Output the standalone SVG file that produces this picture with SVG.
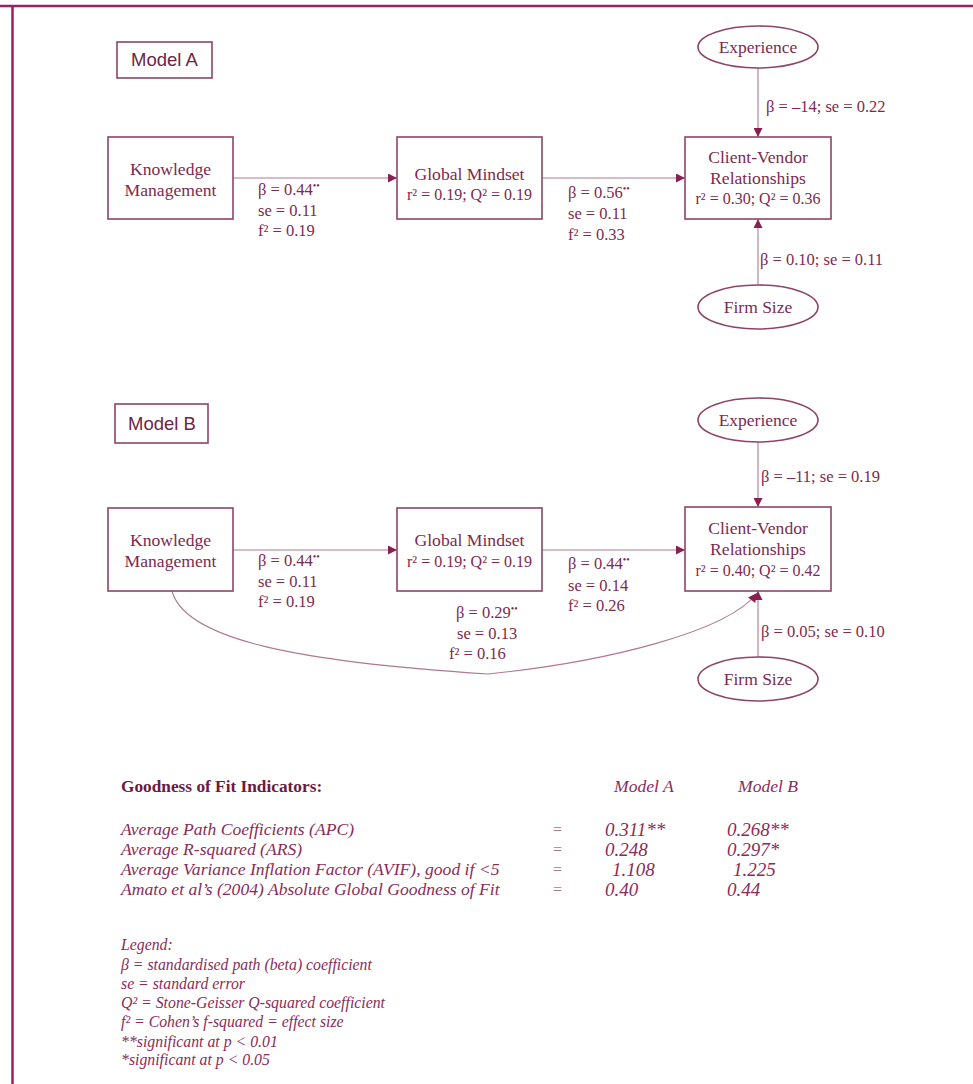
<svg xmlns="http://www.w3.org/2000/svg" width="973" height="1084" viewBox="0 0 973 1084">
<defs>
<marker id="ah" viewBox="0 0 10 10" refX="10" refY="5" markerWidth="11" markerHeight="9" markerUnits="userSpaceOnUse" orient="auto">
<path d="M0,0 L10,5 L0,10 z" fill="#8a1f52"/>
</marker>
<style>
.bx{fill:#fff;stroke:#8e4466;stroke-width:1.6}
.el{fill:#fff;stroke:#8e4466;stroke-width:1.6}
.ln{fill:none;stroke:#b07892;stroke-width:1.1}
.n{font-family:"Liberation Serif","Times New Roman",serif;font-size:17.6px;fill:#7d2a50;text-anchor:middle}
.ns{font-family:"Liberation Serif","Times New Roman",serif;font-size:16px;fill:#7d2a50;text-anchor:middle}
.ne{font-family:"Liberation Serif","Times New Roman",serif;font-size:17.5px;fill:#7d2a50;text-anchor:middle}
.lb{font-family:"Liberation Serif","Times New Roman",serif;font-size:16.5px;fill:#7d2a50}
.m{font-family:"Liberation Sans",Arial,sans-serif;font-size:18.5px;fill:#6e2446}
.sup{font-size:10px}
.h{font-family:"Liberation Serif","Times New Roman",serif;font-size:17.3px;font-weight:bold;fill:#6b1a40}
.it{font-family:"Liberation Serif","Times New Roman",serif;font-size:17.6px;font-style:italic;fill:#8a2c5a}
.v{font-family:"Liberation Serif","Times New Roman",serif;font-size:19px;font-style:italic;fill:#8a2c5a}
.eq{font-family:"Liberation Serif","Times New Roman",serif;font-size:16px;fill:#a8788f}
.lg{font-family:"Liberation Serif","Times New Roman",serif;font-size:15.8px;font-style:italic;fill:#8a2c5a}
</style>
</defs>
<rect x="0" y="0" width="973" height="1084" fill="#fff"/>
<g id="frame">
<line x1="0" y1="6" x2="973" y2="6" stroke="#9d1f63" stroke-width="2.5"/>
<line x1="12.5" y1="5" x2="12.5" y2="1084" stroke="#9d1f63" stroke-width="2.5"/>
</g>

<g id="connectors">
<line class="ln" x1="233" y1="178" x2="397" y2="178" marker-end="url(#ah)"/>
<line class="ln" x1="542" y1="178" x2="685" y2="178" marker-end="url(#ah)"/>
<line class="ln" x1="758" y1="68" x2="758" y2="137" marker-end="url(#ah)"/>
<line class="ln" x1="758" y1="285" x2="758" y2="219" marker-end="url(#ah)"/>
<line class="ln" x1="233" y1="550" x2="397" y2="550" marker-end="url(#ah)"/>
<line class="ln" x1="542" y1="550" x2="685" y2="550" marker-end="url(#ah)"/>
<line class="ln" x1="758" y1="442" x2="758" y2="507" marker-end="url(#ah)"/>
<line class="ln" x1="758" y1="657" x2="758" y2="591" marker-end="url(#ah)"/>
<path class="ln" d="M172,591 C185,640 300,662 488,674 C605,662 728,632 757,593" marker-end="url(#ah)"/>
</g>

<g id="modelA-label">
<rect class="bx" x="117" y="42" width="95" height="36"/>
<text class="m" x="131" y="66">Model A</text>
</g>
<g id="A-km">
<rect class="bx" x="108" y="137" width="125" height="82"/>
<text class="n" x="170.5" y="175">Knowledge</text>
<text class="n" x="170.5" y="196">Management</text>
</g>
<g id="A-gm">
<rect class="bx" x="397" y="137" width="145" height="82"/>
<text class="n" x="469.5" y="180">Global Mindset</text>
<text class="ns" x="469.5" y="200">r² = 0.19; Q² = 0.19</text>
</g>
<g id="A-cvr">
<rect class="bx" x="685" y="137" width="146" height="82"/>
<text class="n" x="758" y="163">Client-Vendor</text>
<text class="n" x="758" y="184">Relationships</text>
<text class="ns" x="758" y="204">r² = 0.30; Q² = 0.36</text>
</g>
<g id="A-exp">
<ellipse class="el" cx="758" cy="47" rx="60" ry="21"/>
<text class="ne" x="758" y="53">Experience</text>
</g>
<g id="A-firm">
<ellipse class="el" cx="758" cy="307" rx="60" ry="22"/>
<text class="ne" x="758" y="313">Firm Size</text>
</g>
<g id="A-labels">
<text class="lb" x="258" y="195">β = 0.44<tspan class="sup" dy="-6">••</tspan></text>
<text class="lb" x="258" y="216">se = 0.11</text>
<text class="lb" x="258" y="236">f² = 0.19</text>
<text class="lb" x="568" y="198">β = 0.56<tspan class="sup" dy="-6">••</tspan></text>
<text class="lb" x="568" y="219">se = 0.11</text>
<text class="lb" x="568" y="240">f² = 0.33</text>
<text class="lb" x="766" y="112">β = –14; se = 0.22</text>
<text class="lb" x="760" y="265">β = 0.10; se = 0.11</text>
</g>

<g id="modelB-label">
<rect class="bx" x="115" y="404" width="93" height="39"/>
<text class="m" x="128" y="430">Model B</text>
</g>
<g id="B-km">
<rect class="bx" x="108" y="508" width="125" height="83"/>
<text class="n" x="170.5" y="546">Knowledge</text>
<text class="n" x="170.5" y="567">Management</text>
</g>
<g id="B-gm">
<rect class="bx" x="397" y="508" width="145" height="83"/>
<text class="n" x="469.5" y="546">Global Mindset</text>
<text class="ns" x="469.5" y="567">r² = 0.19; Q² = 0.19</text>
</g>
<g id="B-cvr">
<rect class="bx" x="685" y="507" width="146" height="84"/>
<text class="n" x="758" y="534">Client-Vendor</text>
<text class="n" x="758" y="555">Relationships</text>
<text class="ns" x="758" y="576">r² = 0.40; Q² = 0.42</text>
</g>
<g id="B-exp">
<ellipse class="el" cx="758" cy="420" rx="60" ry="22"/>
<text class="ne" x="758" y="426">Experience</text>
</g>
<g id="B-firm">
<ellipse class="el" cx="758" cy="679" rx="60" ry="22"/>
<text class="ne" x="758" y="685">Firm Size</text>
</g>
<g id="B-labels">
<text class="lb" x="258" y="566">β = 0.44<tspan class="sup" dy="-6">••</tspan></text>
<text class="lb" x="258" y="587">se = 0.11</text>
<text class="lb" x="258" y="607">f² = 0.19</text>
<text class="lb" x="568" y="569">β = 0.44<tspan class="sup" dy="-6">••</tspan></text>
<text class="lb" x="568" y="591">se = 0.14</text>
<text class="lb" x="568" y="611">f² = 0.26</text>
<text class="lb" x="456" y="618">β = 0.29<tspan class="sup" dy="-6">••</tspan></text>
<text class="lb" x="457" y="639">se = 0.13</text>
<text class="lb" x="449" y="659">f² = 0.16</text>
<text class="lb" x="761" y="482">β = –11; se = 0.19</text>
<text class="lb" x="761" y="637">β = 0.05; se = 0.10</text>
</g>

<g id="fit">
<text class="h" x="121" y="792">Goodness of Fit Indicators:</text>
<text class="it" x="614" y="792">Model A</text>
<text class="it" x="738" y="792">Model B</text>
<text class="it" x="121" y="835">Average Path Coefficients (APC)</text>
<text class="it" x="121" y="855">Average R-squared (ARS)</text>
<text class="it" x="121" y="875">Average Variance Inflation Factor (AVIF), good if &lt;5</text>
<text class="it" x="121" y="895">Amato et al’s (2004) Absolute Global Goodness of Fit</text>
<text class="eq" x="553" y="835">=</text>
<text class="eq" x="553" y="855">=</text>
<text class="eq" x="553" y="875">=</text>
<text class="eq" x="553" y="895">=</text>
<text class="v" x="605" y="836">0.311**</text>
<text class="v" x="727" y="836">0.268**</text>
<text class="v" x="605" y="856">0.248</text>
<text class="v" x="727" y="856">0.297*</text>
<text class="v" x="612" y="876">1.108</text>
<text class="v" x="733" y="876">1.225</text>
<text class="v" x="605" y="896">0.40</text>
<text class="v" x="727" y="896">0.44</text>
</g>

<g id="legend">
<text class="lg" x="121" y="950">Legend:</text>
<text class="lg" x="121" y="970">β = standardised path (beta) coefficient</text>
<text class="lg" x="121" y="989">se = standard error</text>
<text class="lg" x="121" y="1008">Q² = Stone-Geisser Q-squared coefficient</text>
<text class="lg" x="121" y="1027">f² =  Cohen’s f-squared = effect size</text>
<text class="lg" x="121" y="1047">**significant at p &lt; 0.01</text>
<text class="lg" x="121" y="1065">*significant at p &lt; 0.05</text>
</g>
</svg>
